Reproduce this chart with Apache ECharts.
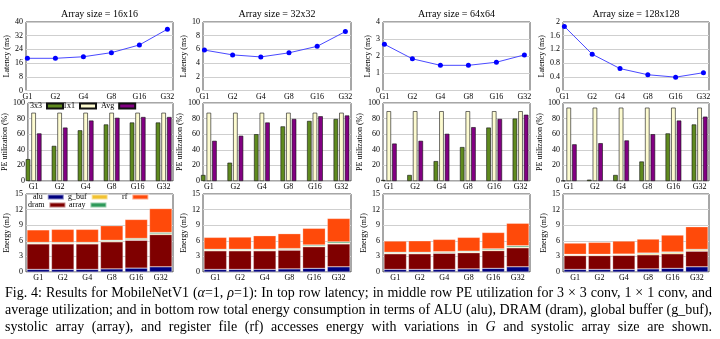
<!DOCTYPE html>
<html><head><meta charset="utf-8">
<script src="https://cdn.jsdelivr.net/npm/echarts@6/dist/echarts.min.js"></script>
<style>html,body{margin:0;padding:0;background:#fff}#c{width:720px;height:339px}</style>
</head><body><div id="c"></div>
<script>
// ---------- data ----------
const groups = ['G1', 'G2', 'G4', 'G8', 'G16', 'G32'];
const arraySizes = ['16x16', '32x32', '64x64', '128x128'];

const latency16 = [18.8, 18.8, 19.7, 22.1, 26.6, 35.8];
const latency32 = [5.9, 5.2, 4.9, 5.5, 6.45, 8.6];
const latency64 = [2.7, 1.85, 1.47, 1.47, 1.65, 2.08];
const latency128 = [1.87, 1.06, 0.64, 0.46, 0.39, 0.52];
const latencyMax = [40, 10, 4, 2];
const latencyStep = [8, 2, 1, 0.4];

const util3x3_16 = [28, 45, 65, 72.5, 75, 75];
const util1x1_16 = [87.5, 87.5, 87.5, 87.5, 87.5, 87.5];
const utilAvg_16 = [61, 68.5, 77.5, 81, 82, 82];
const util3x3_32 = [7.7, 23.5, 60, 70, 77, 79.5];
const util1x1_32 = [87.5, 87.5, 87.5, 87.5, 87.5, 87.5];
const utilAvg_32 = [51.5, 58, 75, 79.5, 83, 84];
const util3x3_64 = [1.3, 7.7, 25.5, 43.5, 68.5, 80];
const util1x1_64 = [89.5, 89.5, 89.5, 89.5, 89.5, 89.5];
const utilAvg_64 = [48, 51.5, 60.5, 69, 79.5, 85];
const util3x3_128 = [0.3, 1.7, 7.7, 25, 61, 72.5];
const util1x1_128 = [94, 94, 94, 94, 94, 94];
const utilAvg_128 = [47, 48.5, 52, 60, 77.5, 82.5];

const alu16 = [0.5, 0.5, 0.5, 0.6, 0.75, 1.0];
const dram16 = [4.9, 4.9, 4.9, 5.2, 5.35, 6.2];
const gbuf16 = [0.15, 0.15, 0.15, 0.15, 0.15, 0.15];
const array16 = [0.15, 0.15, 0.15, 0.15, 0.2, 0.25];
const rf16 = [2.4, 2.5, 2.5, 2.8, 3.65, 4.6];

const alu32 = [0.5, 0.5, 0.5, 0.6, 0.7, 1.0];
const dram32 = [3.57, 3.57, 3.57, 3.6, 4.15, 4.4];
const gbuf32 = [0.15, 0.15, 0.15, 0.15, 0.15, 0.15];
const array32 = [0.15, 0.15, 0.15, 0.15, 0.2, 0.25];
const rf32 = [2.29, 2.35, 2.61, 2.87, 3.2, 4.5];

const alu64 = [0.5, 0.5, 0.5, 0.6, 0.7, 1.0];
const dram64 = [3.0, 3.0, 3.1, 3.1, 3.4, 3.65];
const gbuf64 = [0.15, 0.15, 0.15, 0.15, 0.15, 0.15];
const array64 = [0.15, 0.15, 0.15, 0.15, 0.2, 0.25];
const rf64 = [2.15, 2.2, 2.37, 2.66, 3.15, 4.32];

const alu128 = [0.5, 0.5, 0.5, 0.6, 0.7, 1.0];
const dram128 = [2.65, 2.65, 2.7, 2.7, 2.8, 3.0];
const gbuf128 = [0.15, 0.15, 0.15, 0.2, 0.2, 0.2];
const array128 = [0.1, 0.1, 0.1, 0.15, 0.15, 0.15];
const rf128 = [2.16, 2.3, 2.5, 2.68, 3.25, 4.35];

const captionLines = [
  'Fig. 4: Results for MobileNetV1 ({i|α}=1, {i|ρ}=1): In top row latency; in middle row PE utilization for 3 × 3 conv, 1 × 1 conv, and',
  'average utilization; and in bottom row total energy consumption in terms of ALU (alu), DRAM (dram), global buffer (g_buf),',
  'systolic array (array), and register file (rf) accesses energy with variations in {i|G} and systolic array size are shown.'
];

// ---------- layout ----------
const latencySets = [latency16, latency32, latency64, latency128];
const utilSets = [[util3x3_16, util1x1_16, utilAvg_16], [util3x3_32, util1x1_32, utilAvg_32],
                  [util3x3_64, util1x1_64, utilAvg_64], [util3x3_128, util1x1_128, utilAvg_128]];
const energySets = [[alu16, dram16, gbuf16, array16, rf16], [alu32, dram32, gbuf32, array32, rf32],
                    [alu64, dram64, gbuf64, array64, rf64], [alu128, dram128, gbuf128, array128, rf128]];
const energyNames = ['alu', 'dram', 'g_buf', 'array', 'rf'];
const energyColors = ['#00007f', '#7f0000', '#f2c230', '#2e9a5a', '#ff4a0a'];
const utilNames = ['3x3', '1x1', 'Avg'];
const utilColors = ['#5f8a1f', '#fdfbd0', '#820082'];

const FONT = '"Liberation Serif", "Times New Roman", serif';
const colLeft = [26, 203, 383, 563];
const colWidth = [147, 148, 147, 146];
const rowTop = [22, 103, 194];
const rowHeight = [68.5, 78, 78];

const grids = [], xAxes = [], yAxes = [], series = [], graphics = [];
const labelStyle = { fontFamily: FONT, fontSize: 8, color: '#000' };

for (let r = 0; r < 3; r++) {
  for (let c = 0; c < 4; c++) {
    const idx = r * 4 + c;
    grids.push({ left: colLeft[c], top: rowTop[r], width: colWidth[c], height: rowHeight[r],
      show: true, borderColor: '#222', borderWidth: 0.8, containLabel: false });
    const yBase = { type: 'value', gridIndex: idx, min: 0, nameLocation: 'middle',
      nameTextStyle: { fontFamily: FONT, fontSize: 8, color: '#000' },
      axisLine: { show: false }, axisTick: { show: false },
      axisLabel: Object.assign({ margin: 3 }, labelStyle),
      splitLine: { show: true, lineStyle: { color: '#cfcfcf', width: 1 } } };
    if (r === 0) {
      xAxes.push({ type: 'value', gridIndex: idx, min: -0.05, max: 5.2,
        axisLine: { show: false }, axisTick: { show: false }, splitLine: { show: false },
        axisLabel: Object.assign({ margin: 2, customValues: [0, 1, 2, 3, 4, 5],
          formatter: v => groups[Math.round(v)] }, labelStyle) });
      yAxes.push(Object.assign({}, yBase, { max: latencyMax[c], interval: latencyStep[c],
        name: 'Latency (ms)', nameGap: c === 0 ? 10 : (c === 3 ? 15 : 9) }));
      series.push({ type: 'line', xAxisIndex: idx, yAxisIndex: idx,
        data: latencySets[c].map((v, i) => [i, v]),
        symbol: 'circle', symbolSize: 5,
        lineStyle: { color: '#4a4aff', width: 1 }, itemStyle: { color: '#0000ff' } });
      graphics.push({ type: 'text', x: colLeft[c] + colWidth[c] / 2, y: 14.5,
        style: { text: 'Array size = ' + arraySizes[c], fontFamily: FONT, fontSize: 10,
          fill: '#000', align: 'center', verticalAlign: 'middle' } });
    } else if (r === 1) {
      xAxes.push({ type: 'value', gridIndex: idx, min: -0.22, max: 5.36,
        axisLine: { show: false }, axisTick: { show: false }, splitLine: { show: false },
        axisLabel: Object.assign({ margin: 2, customValues: [0, 1, 2, 3, 4, 5],
          formatter: v => groups[Math.round(v)] }, labelStyle) });
      yAxes.push(Object.assign({}, yBase, { max: 100, interval: 20,
        name: 'PE utilization (%)', nameGap: 15 }));
      for (let k = 0; k < 3; k++) {
        series.push({ type: 'bar', name: utilNames[k], xAxisIndex: idx, yAxisIndex: idx,
          data: utilSets[c][k].map((v, i) => [i, v]), barWidth: 4.5, barGap: '25%',
          itemStyle: { color: utilColors[k], borderColor: '#111', borderWidth: 0.6 } });
      }
    } else {
      xAxes.push({ type: 'category', gridIndex: idx, data: groups, boundaryGap: true,
        axisLine: { show: false }, axisTick: { show: false }, splitLine: { show: false },
        axisLabel: Object.assign({ margin: 2, interval: 0 }, labelStyle) });
      yAxes.push(Object.assign({}, yBase, { max: 15, interval: 3,
        name: 'Energy (mJ)', nameGap: 12 }));
      for (let k = 0; k < 5; k++) {
        series.push({ type: 'bar', name: energyNames[k], xAxisIndex: idx, yAxisIndex: idx,
          stack: 'energy' + c, data: energySets[c][k], barCategoryGap: '8%',
          itemStyle: { color: energyColors[k], borderColor: 'rgba(255,255,255,0.5)', borderWidth: 0.5 } });
      }
    }
  }
}

// legends
function leg(name, left, top) {
  return { data: [name], left: left, top: top, padding: 0, itemGap: 0, align: 'right',
    itemWidth: 16, itemHeight: 5, icon: 'rect', selectedMode: false,
    textStyle: { fontFamily: FONT, fontSize: 8, color: '#000', padding: [0, 0, 0, 0] } };
}
const legends = [
  leg('3x3', 30, 102), leg('1x1', 63, 102), leg('Avg', 101, 102),
  leg('alu', 33, 193), leg('g_buf', 68, 193), leg('rf', 122, 193),
  leg('dram', 28, 201), leg('array', 69, 201)
];

// caption, justified between x=5 and x=712
const CAP_SIZE = 14, CAP_LEFT = 5, CAP_RIGHT = 712;
const mctx = document.createElement('canvas').getContext('2d');
function measureWord(word) {
  let w = 0;
  const re = /\{i\|([^}]*)\}|([^{]+)/g;
  let m;
  while ((m = re.exec(word)) !== null) {
    const italic = m[1] !== undefined;
    mctx.font = (italic ? 'italic ' : '') + CAP_SIZE + 'px ' + FONT;
    w += mctx.measureText(italic ? m[1] : m[2]).width;
  }
  return w;
}
captionLines.forEach((line, li) => {
  const words = line.split(' ');
  const widths = words.map(measureWord);
  const total = widths.reduce((a, b) => a + b, 0);
  const gap = (CAP_RIGHT - CAP_LEFT - total) / (words.length - 1);
  let x = CAP_LEFT;
  words.forEach((w, wi) => {
    graphics.push({ type: 'text', x: x, y: 293 + li * 17.3,
      style: { text: w, fontFamily: FONT, fontSize: CAP_SIZE, fill: '#000', align: 'left', verticalAlign: 'middle',
        rich: { i: { fontFamily: FONT, fontSize: CAP_SIZE, fontStyle: 'italic' } } } });
    x += widths[wi] + gap;
  });
});

const chart = echarts.init(document.getElementById('c'), null, { renderer: 'canvas' });
chart.setOption({
  animation: false,
  backgroundColor: '#fff',
  grid: grids, xAxis: xAxes, yAxis: yAxes, series: series,
  legend: legends, graphic: graphics
});
</script>
</body></html>
